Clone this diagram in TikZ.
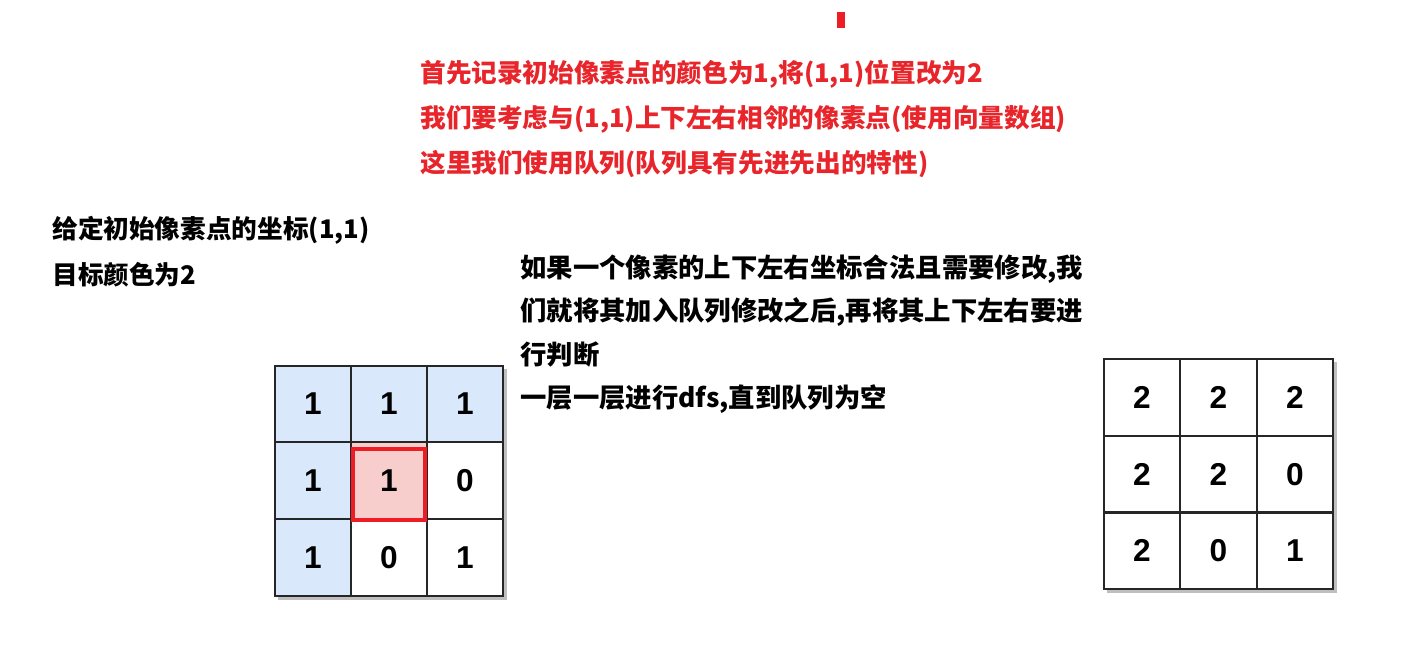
\documentclass[tikz,border=0pt]{standalone}
\usepackage{fontspec}
\usetikzlibrary{positioning, calc, backgrounds}
\newfontfamily\cjk{Noto Sans CJK SC}
\newfontfamily\numfont{Liberation Sans}
\definecolor{tcolor}{HTML}{E8252B}
\definecolor{rcolor}{HTML}{EE1C25}
\definecolor{cblue}{HTML}{DAE8FC}
\definecolor{cpink}{HTML}{F8CECC}

\begin{document}
\begin{tikzpicture}[
    x=0.02cm, y=-0.02cm,
    cell/.style={rectangle, draw=black!85, line width=1.1pt, minimum size=1.53cm, inner sep=0, font=\numfont\bfseries\fontsize{18}{18}\selectfont},
    seedbox/.style={rectangle, draw=rcolor, line width=2.2pt, minimum width=1.45cm, minimum height=1.42cm, inner sep=0},
    note/.style={anchor=north west, inner sep=0, align=left, font=\cjk\bfseries\fontsize{14.6}{25.5}\selectfont},
  ]
    \useasboundingbox (0,0) rectangle (1412,655);
    \node[fill=rcolor, minimum width=0.16cm, minimum height=0.32cm, inner sep=0] (cursor) at (841,20) {};

    \node[note, text=tcolor] (steps) at (420,60) {首先记录初始像素点的颜色为1,将(1,1)位置改为2\\我们要考虑与(1,1)上下左右相邻的像素点(使用向量数组)\\这里我们使用队列(队列具有先进先出的特性)};
    \node[note, font=\cjk\bfseries\fontsize{14.6}{26}\selectfont] (given) at (52,216) {给定初始像素点的坐标(1,1)\\目标颜色为2};
    \node[note, font=\cjk\bfseries\fontsize{15}{24.8}\selectfont] (rule) at (520,254) {如果一个像素的上下左右坐标合法且需要修改,我\\们就将其加入队列修改之后,再将其上下左右要进\\行判断\\一层一层进行dfs,直到队列为空};

    % initial image
    \foreach \v/\f [count=\k from 0] in {1/cblue,1/cblue,1/cblue,1/cblue,1/cpink,0/white,1/cblue,0/white,1/white} {
      \pgfmathtruncatemacro\r{div(\k,3)}
      \pgfmathtruncatemacro\c{mod(\k,3)}
      \node[cell, fill=\f] (a\r\c) at (313+76*\c, 404+76.7*\r) {\v};
    }
    \node[seedbox] (seed) at ($(a11)+(0,4)$) {};

    % filled image
    \foreach \v [count=\k from 0] in {2,2,2,2,2,0,2,0,1} {
      \pgfmathtruncatemacro\r{div(\k,3)}
      \pgfmathtruncatemacro\c{mod(\k,3)}
      \node[cell, fill=white] (b\r\c) at (1142+76.5*\c, 397.5+76.7*\r) {\v};
    }

    \begin{pgfonlayer}{background}
      \fill[black!25] ($(a00.north west)+(4,4)$) rectangle ($(a22.south east)+(3,3)$);
      \fill[black!25] ($(b00.north west)+(4,4)$) rectangle ($(b22.south east)+(3,3)$);
    \end{pgfonlayer}
  \end{tikzpicture}
\end{document}
